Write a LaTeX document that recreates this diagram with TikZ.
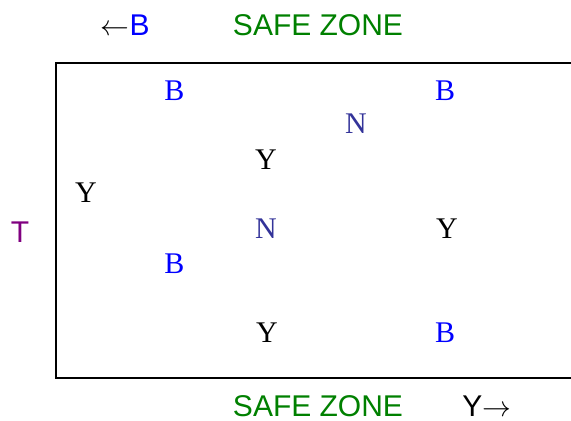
\documentclass[tikz,border=0pt]{standalone}
\usepackage{fontspec}
\setmainfont{Liberation Serif}
\setsansfont{Liberation Sans}
\definecolor{zonegreen}{RGB}{0,128,0}
\definecolor{nblue}{RGB}{51,51,153}
\definecolor{tpurple}{RGB}{128,0,128}
\begin{document}
\begin{tikzpicture}[x=0.5pt,y=-0.5pt,
  cell/.style={inner sep=0pt,font=\fontsize{15}{18}\selectfont},
  lab/.style={inner sep=0pt,font=\sffamily\fontsize{15}{18}\selectfont},
  bcell/.style={cell,text=blue},
  ncell/.style={cell,text=nblue},
  ycell/.style={cell,text=black},
  zone/.style={lab,text=zonegreen}]
\useasboundingbox (0,0) rectangle (571,421);
\draw[line width=0.8pt] (572,63) -- (56,63) -- (56,378) -- (572,378);
% outside labels
\node[lab,anchor=east] (lb) at (150,25) {$\leftarrow$\textcolor{blue}{B}};
\node[zone] (zt) at (318,25) {SAFE ZONE};
\node[zone] (zb) at (318,406) {SAFE ZONE};
\node[lab,anchor=west] (ry) at (462,406) {Y$\rightarrow$};
\node[lab,text=tpurple] (t) at (20,232) {T};
% grid letters
\node[bcell] (b1) at (174.5,91) {B};
\node[bcell] (b2) at (445,91) {B};
\node[ncell] (n1) at (356,124) {N};
\node[ycell] (y1) at (266,160) {Y};
\node[ycell] (y2) at (86,193) {Y};
\node[ncell] (n2) at (266,229) {N};
\node[ycell] (y3) at (447,229) {Y};
\node[bcell] (b3) at (174.5,264) {B};
\node[ycell] (y4) at (267,333) {Y};
\node[bcell] (b4) at (445,333) {B};
\end{tikzpicture}
\end{document}
